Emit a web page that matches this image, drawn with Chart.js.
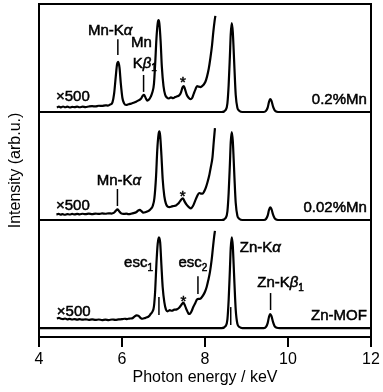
<!DOCTYPE html>
<html>
<head>
<meta charset="utf-8">
<script src="https://cdn.jsdelivr.net/npm/chart.js@4.4.0/dist/chart.umd.min.js"></script>
<style>
  html, body { margin: 0; padding: 0; background: #fff; }
</style>
</head>
<body>
<canvas id="xrf" width="383" height="392"></canvas>
<script>
const FONT = '"Liberation Sans", Arial, sans-serif';

/* ===== DATA ===== */
// panel baselines (top: 0.2%Mn, middle: 0.02%Mn, bottom: Zn-MOF)
const panelOffsets = [200, 100, 0];
const panelNames = ["0.2%Mn", "0.02%Mn", "Zn-MOF"];

// full spectrum, keV and intensity per panel
const mainE = [4.00, 8.40, 8.50, 8.54, 8.57, 8.60, 8.62, 8.645, 8.67, 8.69, 8.71, 8.74, 8.78, 8.83, 8.90,
               9.42, 9.47, 9.51, 9.54, 9.57, 9.60, 9.64, 9.68, 9.73, 9.80, 12.00];
const main02 = [0, 0, 2, 8, 25, 52, 72, 82.4, 74, 58, 40, 16, 4, 1, 0, 0, 1, 4, 9, 12, 10.5, 5, 1.5, 0.3, 0, 0];
const main002 = [0, 0, 2, 8, 25, 52, 72, 81.5, 73, 57, 39, 16, 4, 1, 0, 0, 1, 4, 9, 11.8, 10.3, 5, 1.5, 0.3, 0, 0];
const mainMof = [0, 0, 2, 8, 26, 54, 74, 84, 76, 59, 41, 17, 4, 1, 0, 0, 1, 4.5, 10, 13, 11.3, 5.5, 1.6, 0.3, 0, 0];

// x500 traces as [keV, intensity]
const zoom02 = [[4.43,4.2],[4.48,5.0],[4.53,4.3],[4.58,5.1],[4.63,4.4],[4.68,4.9],[4.74,4.2],[4.80,4.8],[4.86,4.5],
  [4.92,5.0],[4.98,4.4],[5.05,4.9],[5.12,4.6],[5.20,5.1],[5.28,5.4],[5.36,5.2],[5.44,5.8],[5.52,5.6],[5.60,6.2],
  [5.66,6.0],[5.72,7.0],[5.77,9],[5.81,17],[5.85,33],[5.88,44],[5.91,46.5],[5.94,41],[5.97,27],[6.01,13],[6.05,8],
  [6.10,6.5],[6.16,7.2],[6.22,7.8],[6.28,8.5],[6.34,9.5],[6.40,10.8],[6.45,12],[6.50,15],[6.53,15.8],[6.57,13],
  [6.61,10.5],[6.65,11.5],[6.69,14],[6.73,18],[6.77,26],[6.80,45],[6.83,68],[6.86,82],[6.88,85],[6.90,82],[6.93,66],
  [6.96,42],[7.00,24],[7.04,16],[7.08,13.5],[7.13,12.5],[7.18,13.5],[7.23,12.8],[7.28,13.8],[7.33,14.5],[7.38,15.5],
  [7.42,18],[7.46,23],[7.49,24],[7.52,21],[7.56,16],[7.60,13.5],[7.65,12],[7.69,13],[7.73,17],[7.77,21],[7.81,24],
  [7.85,23.5],[7.89,23],[7.93,24],[7.97,25.5],[8.01,28],[8.05,33],[8.09,40],[8.13,50],[8.17,62],[8.20,74],[8.23,84],[8.25,89]];

const zoom002 = [[4.42,5.0],[4.47,5.6],[4.52,5.0],[4.57,5.4],[4.62,4.9],[4.68,5.5],[4.74,5.1],[4.80,5.6],[4.86,5.2],
  [4.92,5.7],[4.98,5.3],[5.05,5.8],[5.12,5.4],[5.20,5.9],[5.28,5.5],[5.36,6.0],[5.44,5.6],[5.52,6.1],[5.60,5.8],
  [5.68,6.2],[5.75,6.0],[5.80,6.6],[5.85,8.5],[5.89,9.8],[5.93,8.2],[5.98,6.2],[6.04,5.6],[6.10,5.9],[6.16,5.4],
  [6.22,5.8],[6.28,6.4],[6.34,7.2],[6.39,8.8],[6.43,9.4],[6.47,8.2],[6.51,6.9],[6.56,7.2],[6.61,8.0],[6.66,9.0],
  [6.70,10.5],[6.74,13],[6.78,20],[6.82,40],[6.85,65],[6.88,79],[6.90,82],[6.92,78],[6.95,60],[6.98,38],[7.02,22],
  [7.06,15],[7.10,12.5],[7.15,12],[7.20,12.6],[7.25,13],[7.30,13.5],[7.35,15],[7.40,17.5],[7.44,19.5],[7.47,20],
  [7.51,17],[7.56,14],[7.61,12],[7.66,10.8],[7.71,13],[7.76,17.5],[7.81,22],[7.86,25],[7.90,24.5],[7.94,24.4],
  [7.98,26.5],[8.02,30],[8.06,35],[8.10,41],[8.14,49],[8.18,58],[8.21,72],[8.23,81],[8.24,85]];

const zoomMof = [[4.43,8.8],[4.48,9.4],[4.53,8.6],[4.58,8.2],[4.63,8.8],[4.68,8.1],[4.74,8.5],[4.80,7.9],[4.86,8.3],
  [4.92,7.8],[4.98,8.2],[5.05,7.7],[5.12,8.1],[5.20,7.6],[5.28,8.0],[5.36,7.5],[5.44,7.9],[5.52,7.4],[5.60,7.8],
  [5.68,7.4],[5.76,7.9],[5.84,7.6],[5.92,8.0],[6.00,8.2],[6.06,8.6],[6.12,8.3],[6.18,8.8],[6.24,8.9],[6.30,10.5],
  [6.35,11.7],[6.40,11.2],[6.45,9.2],[6.50,8.6],[6.55,9.2],[6.60,9.9],[6.65,11],[6.69,13],[6.73,15],[6.77,20],
  [6.80,35],[6.83,60],[6.86,78],[6.89,84],[6.92,79],[6.95,58],[6.98,38],[7.02,24],[7.06,17],[7.10,15.5],[7.15,16.5],
  [7.20,16],[7.26,17],[7.32,17.3],[7.37,18.5],[7.41,20.4],[7.45,22.5],[7.48,23.5],[7.52,20.5],[7.56,16.7],[7.60,13.5],
  [7.63,13],[7.67,15],[7.72,19.7],[7.77,23.5],[7.81,26.5],[7.86,27],[7.90,27.5],[7.95,30],[8.00,33.6],[8.04,38],
  [8.08,44.4],[8.12,52],[8.16,63],[8.19,74],[8.22,84.5],[8.24,90]];

// peak marker lines: [keV, from, to, panel]
const markers = [[5.90, 52.8, 67.4, 0], [6.52, 18.6, 34.3, 0], [5.89, 13, 28.7, 1],
                 [6.89, 12, 28.7, 2], [7.83, 31.5, 48, 2], [8.62, 2.8, 19.4, 2], [9.58, 16.7, 32.4, 2]];

const xTicks = [4, 6, 8, 10, 12];

/* ===== LABELS ===== */
// parts: [text, style] with style i = italic, s = subscript
const labels = [
  { x: 5.18, y: 275, a: "left", parts: [["Mn-K"], ["α", "i"]] },
  { x: 6.47, y: 263.6, a: "center", parts: [["Mn"]] },
  { x: 6.26, y: 245, a: "left", parts: [["K"], ["β", "i"], ["1", "s"]] },
  { x: 7.47, y: 227, a: "center", parts: [["*"]] },
  { x: 4.41, y: 214, a: "left", parts: [["×500"]] },
  { x: 11.9, y: 211, a: "right", parts: [[panelNames[0]]] },

  { x: 5.39, y: 136.7, a: "left", parts: [["Mn-K"], ["α", "i"]] },
  { x: 7.46, y: 121, a: "center", parts: [["*"]] },
  { x: 4.41, y: 113, a: "left", parts: [["×500"]] },
  { x: 11.9, y: 110.8, a: "right", parts: [[panelNames[1]]] },

  { x: 6.05, y: 60, a: "left", parts: [["esc"], ["1", "s"]] },
  { x: 7.36, y: 60, a: "left", parts: [["esc"], ["2", "s"]] },
  { x: 8.84, y: 73.8, a: "left", parts: [["Zn-K"], ["α", "i"]] },
  { x: 9.26, y: 41.4, a: "left", parts: [["Zn-K"], ["β", "i"], ["1", "s"]] },
  { x: 7.48, y: 24, a: "center", parts: [["*"]] },
  { x: 4.43, y: 15, a: "left", parts: [["×500"]] },
  { x: 11.9, y: 11.1, a: "right", parts: [[panelNames[2]]] }
];

/* ===== DATASETS ===== */
function line(points, width) {
  return { data: points, borderColor: "#000", borderWidth: width || 2.2, pointRadius: 0,
           fill: false, cubicInterpolationMode: "monotone" };
}
const datasets = [];
[main02, main002, mainMof].forEach((vals, i) => {
  datasets.push(line(mainE.map((e, j) => ({ x: e, y: vals[j] + panelOffsets[i] }))));
});
[zoom02, zoom002, zoomMof].forEach((pairs, i) => {
  datasets.push(line(pairs.map(p => ({ x: p[0], y: p[1] + panelOffsets[i] }))));
});
markers.forEach(m => {
  const off = panelOffsets[m[3]];
  datasets.push(line([{ x: m[0], y: m[1] + off }, { x: m[0], y: m[2] + off }], 1.5));
});

/* ===== PLUGINS ===== */
const framePlugin = {
  id: "frame",
  afterDatasetsDraw(chart) {
    const { ctx, chartArea: c } = chart;
    ctx.save();
    ctx.strokeStyle = "#000";
    ctx.lineWidth = 2;
    ctx.strokeRect(c.left, c.top, c.right - c.left, c.bottom - c.top);
    ctx.restore();
  }
};

function partFont(style) {
  if (style === "i") return "italic 15px " + FONT;
  if (style === "s") return "10px " + FONT;
  return "15px " + FONT;
}

const labelPlugin = {
  id: "labels",
  afterDatasetsDraw(chart) {
    const { ctx, scales } = chart;
    ctx.save();
    ctx.fillStyle = "#000";
    ctx.strokeStyle = "#000";
    ctx.lineWidth = 0.5;
    ctx.textBaseline = "middle";
    ctx.textAlign = "left";
    labels.forEach(l => {
      let w = 0;
      l.parts.forEach(p => { ctx.font = partFont(p[1]); w += ctx.measureText(p[0]).width; });
      let px = scales.x.getPixelForValue(l.x);
      const py = scales.y.getPixelForValue(l.y);
      if (l.a === "right") px -= w;
      else if (l.a === "center") px -= w / 2;
      l.parts.forEach(p => {
        ctx.font = partFont(p[1]);
        const ty = p[1] === "s" ? py + 5 : py;
        ctx.fillText(p[0], px, ty);
        ctx.strokeText(p[0], px, ty);
        px += ctx.measureText(p[0]).width;
      });
    });
    ctx.restore();
  }
};

/* ===== CHART ===== */
new Chart(document.getElementById("xrf"), {
  type: "line",
  data: { datasets },
  plugins: [framePlugin, labelPlugin],
  options: {
    responsive: false,
    animation: false,
    devicePixelRatio: 1,
    layout: { padding: { top: 4, right: 12, left: 0, bottom: 0 } },
    plugins: { legend: { display: false }, tooltip: { enabled: false } },
    scales: {
      x: {
        type: "linear", min: 4, max: 12,
        afterBuildTicks: s => { s.ticks = xTicks.map(v => ({ value: v })); },
        ticks: { color: "#000", font: { family: FONT, size: 16 }, padding: 3, maxRotation: 0 },
        grid: { drawOnChartArea: false, drawTicks: true, tickLength: 10, color: "#000", lineWidth: 2 },
        border: { color: "#000", width: 2 },
        title: { display: true, text: "Photon energy / keV", color: "#000",
                 font: { family: FONT, size: 16 }, padding: { top: 0, bottom: 5 } },
        afterFit: s => { s.height = 55; }
      },
      y: {
        min: -8.3, max: 300,
        ticks: { display: false },
        grid: { display: false },
        border: { display: false },
        title: { display: true, text: "Intensity (arb.u.)", color: "#000",
                 font: { family: FONT, size: 16 }, padding: { top: 6, bottom: 0 } },
        afterFit: s => { s.width = 39; }
      }
    }
  }
});
</script>
</body>
</html>
